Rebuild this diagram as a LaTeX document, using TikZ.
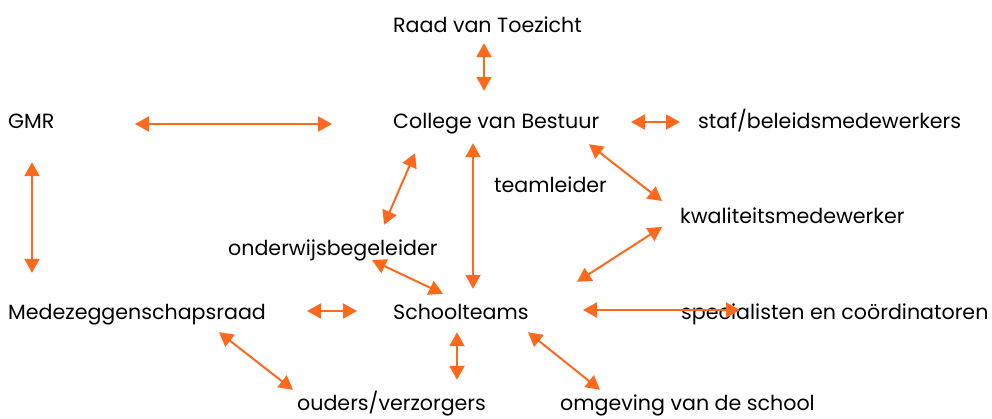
\documentclass[tikz,border=0pt]{standalone}
\usepackage{fontspec}
\setmainfont{Poppins}
\usepackage{tikz}
\usetikzlibrary{calc,arrows.meta}
\definecolor{linkorange}{RGB}{255,105,30}

\begin{document}
\begin{tikzpicture}
[x=1pt,y=-1pt,>={Triangle[length=14pt,width=15pt]},
lbl/.style={anchor=base west,inner sep=0pt,text height=14pt,text depth=4pt,font=\fontsize{20.6}{24}\selectfont},
link/.style={<->,draw=linkorange,fill=linkorange,line width=2pt},]

\useasboundingbox (0,0) rectangle (992,418);

%Labeling bodies
\node (raad) at (393,32)[lbl] {Raad van Toezicht};
\node (gmr) at (8,128)[lbl] {GMR};
\node (cvb) at (393,128)[lbl] {College van Bestuur};
\node (staf) at (698,128)[lbl] {staf/beleidsmedewerkers};
\node (tl) at (494,192)[lbl] {teamleider};
\node (kwal) at (680,223)[lbl] {kwaliteitsmedewerker};
\node (owb) at (228,255)[lbl] {onderwijsbegeleider};
\node (mr) at (8,319)[lbl] {Medezeggenschapsraad};
\node (st) at (393,319)[lbl] {Schoolteams};
\node (spec) at (681,319)[lbl] {specialisten en coördinatoren};
\node (ouders) at (297,410)[lbl] {ouders/verzorgers};
\node (omg) at (560,410)[lbl] {omgeving van de school};

%Top row
\draw[link] ($(raad.south west)+(91,7)$) -- ($(cvb.north west)+(91,-23)$);
\draw[link] ($(gmr.west)+(127,1)$) -- ($(cvb.west)+(-61,1)$);
\draw[link] ($(cvb.west)+(238,-1)$) -- ($(staf.west)+(-18,-1)$);
\draw[link] ($(gmr.south west)+(24,30)$) -- ($(mr.north west)+(24,-32)$);

%Middle
\draw[link] ($(cvb.south west)+(22,21)$) -- ($(owb.north west)+(156,-16)$);
\draw[link] ($(cvb.south west)+(80,11)$) -- ($(st.north west)+(80,-16)$);
\draw[link] ($(cvb.south west)+(196,12)$) -- ($(kwal.west)+(-18,-17)$);
\draw[link] ($(kwal.west)+(-18,9)$) -- ($(st.north west)+(184,-23)$);
\draw[link] ($(owb.south west)+(144,1)$) -- ($(st.north west)+(50,-11)$);

%Schoolteams row
\draw[link] ($(mr.west)+(299,-3)$) -- ($(st.west)+(-36,-3)$);
\draw[link] ($(st.west)+(190,-4)$) -- ($(spec.west)+(59,-4)$);

%Bottom
\draw[link] ($(st.south west)+(64,9)$) -- ($(ouders.north west)+(160,-16)$);
\draw[link] ($(mr.south west)+(211,9)$) -- ($(ouders.north west)+(-4,-6)$);
\draw[link] ($(st.south west)+(135,9)$) -- ($(omg.north west)+(40,-6)$);

\end{tikzpicture}
\end{document}
